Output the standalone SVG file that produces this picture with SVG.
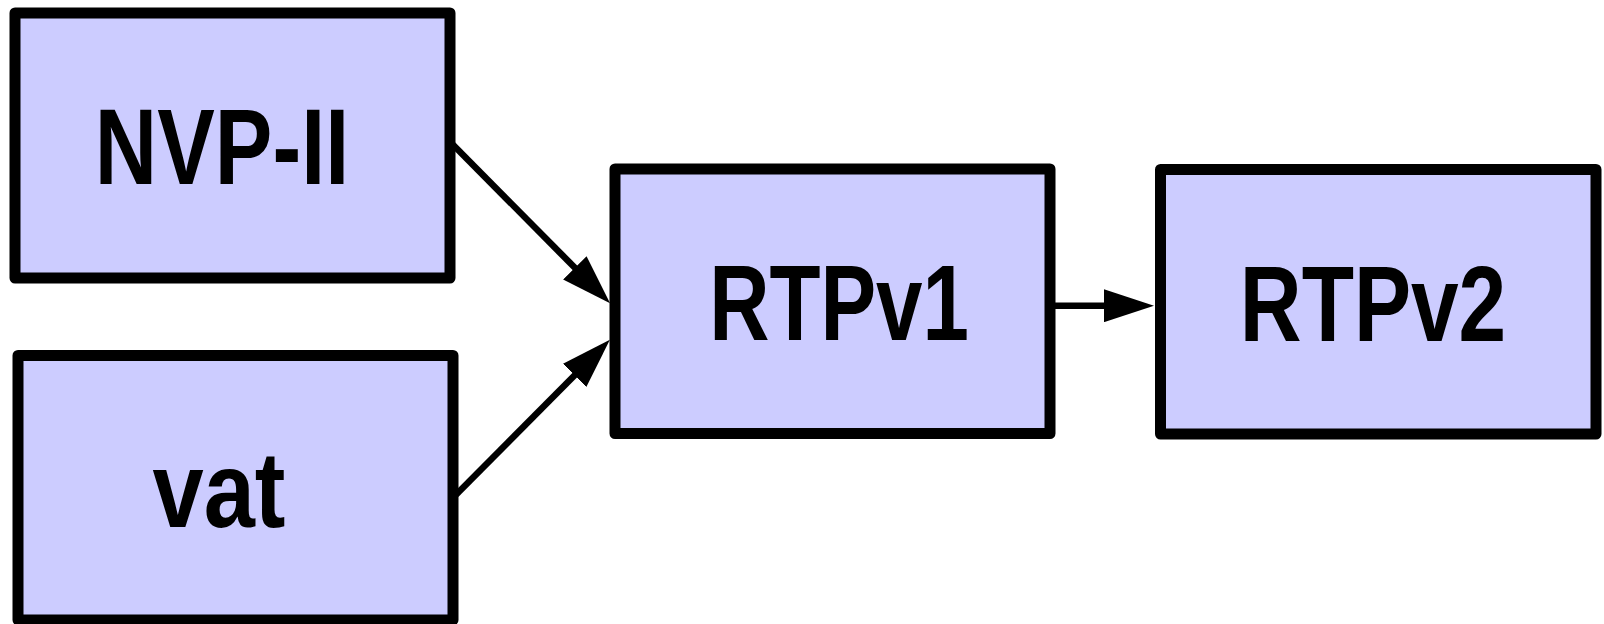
<svg xmlns="http://www.w3.org/2000/svg" width="1604" height="624" viewBox="0 0 1604 624">
  <style>
    .box { fill: #ccccff; stroke: #000000; stroke-width: 11; stroke-linejoin: round; }
    .label { font-family: "Liberation Sans", Arial, sans-serif; font-weight: bold; font-size: 107px; fill: #000000; text-anchor: middle; }
    .edge { fill: none; stroke: #000000; stroke-width: 6.5; }
  </style>
  <defs>
    <marker id="arrow" markerUnits="userSpaceOnUse" markerWidth="50" markerHeight="33" refX="12" refY="16.5" orient="auto">
      <path d="M0,0 L50,16.5 L0,33 Z" fill="#000000"/>
    </marker>
  </defs>

  <g id="connectors">
    <line class="edge" x1="452" y1="143.7" x2="583.3" y2="276.3" marker-end="url(#arrow)"/>
    <line class="edge" x1="456" y1="494.7" x2="583.1" y2="366.8" marker-end="url(#arrow)"/>
    <line class="edge" x1="1052" y1="305.7" x2="1116" y2="305.7" marker-end="url(#arrow)"/>
  </g>

  <g id="node-nvp-ii">
    <rect class="box" x="15" y="13" width="435" height="265"/>
    <text class="label" transform="translate(222 184.3) scale(0.807 1)">NVP-II</text>
  </g>

  <g id="node-vat">
    <rect class="box" x="18" y="355.5" width="435" height="264.5"/>
    <text class="label" transform="translate(219 527.3) scale(0.86 1)">vat</text>
  </g>

  <g id="node-rtpv1">
    <rect class="box" x="615" y="169" width="435" height="264.5"/>
    <text class="label" transform="translate(839 340) scale(0.78 1)">RTPv1</text>
  </g>

  <g id="node-rtpv2">
    <rect class="box" x="1160.5" y="169.5" width="435.5" height="264.5"/>
    <text class="label" transform="translate(1373 341) scale(0.80 1)">RTPv2</text>
  </g>
</svg>
